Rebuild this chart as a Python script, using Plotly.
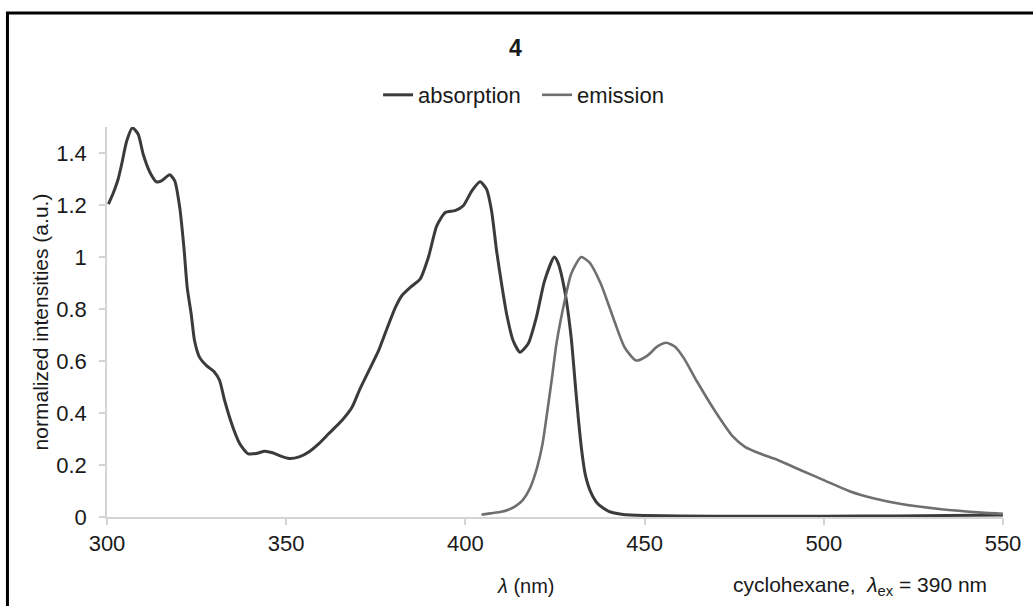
import plotly.graph_objects as go

# Absorption spectrum of compound 4 (normalized)
abs_nm = [300.4, 301.8, 303.1, 304.1, 305.5, 307.1, 308.7, 310.1, 312.0, 313.8,
          315.2, 317.5, 318.9, 320.3, 321.5, 322.4, 323.5, 324.4, 325.8, 327.7,
          330.0, 331.4, 332.8, 335.1, 337.0, 339.3, 341.6, 344.0, 346.2, 348.5,
          350.8, 353.6, 356.4, 359.2, 361.9, 365.6, 368.4, 370.5, 373.1, 375.8,
          378.1, 380.5, 382.3, 384.6, 387.4, 389.7, 392.0, 394.4, 397.1, 399.4,
          401.8, 404.1, 405.9, 407.3, 408.7, 410.1, 411.5, 413.3, 415.2, 417.5,
          419.8, 422.1, 424.8, 425.8, 427.7, 429.5, 430.6, 431.5, 432.5, 433.5,
          435.0, 437.0, 440.0, 444.0, 450.0, 460.0, 480.0, 500.0, 520.0, 550.0]
abs_val = [1.203, 1.248, 1.299, 1.357, 1.446, 1.497, 1.472, 1.395, 1.325, 1.289,
           1.293, 1.316, 1.293, 1.190, 1.030, 0.880, 0.780, 0.680, 0.615, 0.583,
           0.557, 0.526, 0.449, 0.346, 0.283, 0.244, 0.244, 0.253, 0.247, 0.234,
           0.225, 0.231, 0.251, 0.283, 0.321, 0.372, 0.423, 0.490, 0.564, 0.641,
           0.724, 0.807, 0.852, 0.883, 0.916, 1.000, 1.120, 1.171, 1.178, 1.197,
           1.254, 1.289, 1.261, 1.178, 1.024, 0.896, 0.781, 0.679, 0.634, 0.666,
           0.768, 0.909, 1.000, 0.979, 0.871, 0.692, 0.520, 0.380, 0.250, 0.160,
           0.095, 0.050, 0.022, 0.010, 0.006, 0.004, 0.003, 0.003, 0.004, 0.008]

# Emission spectrum of compound 4 (normalized), excitation at 390 nm
em_nm = [404.5, 407.0, 410.0, 412.0, 414.0, 416.0, 418.0, 420.0, 421.5, 423.0,
         424.3, 425.4, 427.7, 429.5, 432.3, 434.6, 437.8, 441.5, 444.4, 447.6,
         450.8, 453.5, 456.0, 458.5, 461.0, 464.5, 470.0, 474.6, 478.0, 482.0,
         487.0, 493.6, 500.3, 507.0, 513.8, 521.6, 532.8, 544.0, 550.0]
em_val = [0.009, 0.014, 0.020, 0.028, 0.042, 0.065, 0.110, 0.190, 0.280, 0.420,
          0.550, 0.666, 0.832, 0.935, 1.000, 0.979, 0.896, 0.756, 0.653, 0.602,
          0.621, 0.655, 0.670, 0.655, 0.610, 0.524, 0.400, 0.310, 0.270, 0.245,
          0.220, 0.180, 0.140, 0.100, 0.072, 0.050, 0.030, 0.017, 0.012]

x_ticks = [300, 350, 400, 450, 500, 550]

FONT = "Liberation Sans, Arial, sans-serif"
AXIS_GREY = "#d4d4d4"

fig = go.Figure()
fig.add_trace(go.Scatter(x=abs_nm, y=abs_val, mode="lines", name="absorption",
                         line=dict(color="#3b3b3b", width=3, shape="spline", smoothing=0.6)))
fig.add_trace(go.Scatter(x=em_nm, y=em_val, mode="lines", name="emission",
                         line=dict(color="#6f6f6f", width=2.6, shape="spline", smoothing=0.6)))

fig.update_layout(
    width=1033, height=606,
    margin=dict(l=107, r=26, t=127, b=89),
    paper_bgcolor="white", plot_bgcolor="white",
    font=dict(family=FONT, size=22, color="#1a1a1a"),
    showlegend=True,
    legend=dict(orientation="h", x=0.48, xanchor="center", y=1.082, yanchor="middle",
                font=dict(size=22), itemwidth=30, tracegroupgap=0,
                entrywidth=114, entrywidthmode="pixels",
                bgcolor="rgba(0,0,0,0)"),
    xaxis=dict(range=[300, 550], tickvals=x_ticks, showgrid=False, zeroline=False,
               showline=True, linecolor=AXIS_GREY, linewidth=1.5,
               ticks="outside", ticklen=6, tickcolor=AXIS_GREY, tickwidth=1.5),
    yaxis=dict(range=[0, 1.5], tick0=0, dtick=0.2, showgrid=False, zeroline=False,
               showline=True, linecolor=AXIS_GREY, linewidth=1.5,
               ticks="outside", ticklen=6, tickcolor=AXIS_GREY, tickwidth=1.5,
               ticklabelstandoff=8,
               title=dict(text="normalized intensities (a.u.)", font=dict(size=21), standoff=2)),
    annotations=[
        dict(text="<b>4</b>", xref="paper", yref="paper", x=0.4556, y=1.2026,
             xanchor="center", yanchor="middle", showarrow=False, font=dict(size=23)),
        dict(text="<i>λ</i> (nm)", xref="paper", yref="paper", x=0.468, y=-0.177,
             xanchor="center", yanchor="middle", showarrow=False, font=dict(size=20)),
        dict(text="cyclohexane,  <i>λ</i><sub>ex</sub> = 390 nm", xref="paper", yref="paper",
             x=0.9844, y=-0.177, xanchor="right", yanchor="middle", showarrow=False,
             font=dict(size=21)),
    ],
    shapes=[
        dict(type="rect", xref="paper", yref="paper", x0=-0.1111, y0=-0.27,
             x1=1.04, y1=1.2923, line=dict(color="black", width=3), layer="above"),
    ],
)

fig.write_html("out.html")
